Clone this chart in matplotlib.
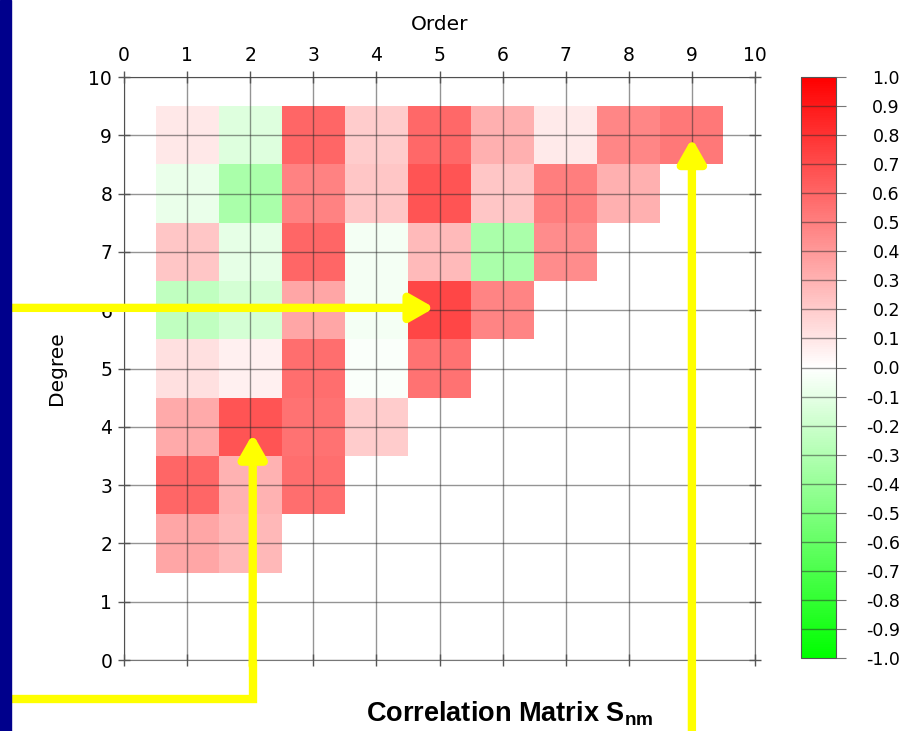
import numpy as np
import matplotlib
matplotlib.use("Agg")
import matplotlib.pyplot as plt
from matplotlib.colors import LinearSegmentedColormap

plt.rcParams['font.family'] = ['DejaVu Sans']
plt.rcParams['mathtext.fontset'] = 'custom'
plt.rcParams['mathtext.rm'] = 'Liberation Sans'
plt.rcParams['mathtext.bf'] = 'Liberation Sans:bold'

# correlation per degree n, orders m = 1..n
degrees = [2, 3, 4, 5, 6, 7, 8, 9]
row_n2 = [0.35, 0.28]
row_n3 = [0.60, 0.30, 0.57]
row_n4 = [0.33, 0.67, 0.55, 0.20]
row_n5 = [0.12, 0.06, 0.57, -0.02, 0.55]
row_n6 = [-0.25, -0.17, 0.35, -0.04, 0.72, 0.48]
row_n7 = [0.22, -0.10, 0.60, -0.04, 0.27, -0.33, 0.45]
row_n8 = [-0.08, -0.33, 0.49, 0.22, 0.67, 0.22, 0.50, 0.31]
row_n9 = [0.09, -0.13, 0.60, 0.20, 0.59, 0.31, 0.08, 0.47, 0.53]
rows = [row_n2, row_n3, row_n4, row_n5, row_n6, row_n7, row_n8, row_n9]

ticks = list(range(0, 11))
cbar_ticks = [round(v, 1) + 0.0 for v in np.arange(-1.0, 1.01, 0.1)]
cbar_labels = ['%.1f' % (0.0 if abs(t) < 1e-9 else t) for t in cbar_ticks]

grid = np.full((11, 11), np.nan)
for n, vals in zip(degrees, rows):
    for m, v in enumerate(vals, start=1):
        grid[n, m] = v
grid = np.ma.masked_invalid(grid)

cmap = LinearSegmentedColormap.from_list('gwr', [(0, 1, 0), (1, 1, 1), (1, 0, 0)])

fig = plt.figure(figsize=(9.05, 7.31), dpi=100)
W, H = 905, 731

# navy stripe on the left edge
fig.patches.append(plt.Rectangle((0, 0), 11 / W, 1, transform=fig.transFigure,
                                 color='#00008c', zorder=0))

ax = fig.add_axes([124 / W, 1 - 660 / H, (755 - 124) / W, (660 - 77) / H])
edges = np.arange(-0.5, 11, 1.0)
mesh = ax.pcolormesh(edges, edges, grid, cmap=cmap, vmin=-1, vmax=1)
ax.set_xlim(0, 10)
ax.set_ylim(0, 10)
ax.set_xticks(ticks)
ax.set_yticks(ticks)
ax.xaxis.tick_top()
ax.xaxis.set_label_position('top')
ax.tick_params(axis='both', direction='inout', length=9, width=1, color='#555555',
               labelsize=13.5, top=True, bottom=True, left=True, right=True,
               labelbottom=False, labelright=False, pad=4)
ax.grid(True, color='#2a2a2a', alpha=0.5, lw=1)
ax.set_axisbelow(False)
for s in ax.spines.values():
    s.set_color('#777777')
ax.set_xlabel('Order', fontsize=14.5, labelpad=12)
ax.set_ylabel('Degree', fontsize=14.5, labelpad=16)

# colorbar
cax = fig.add_axes([801 / W, 1 - 658 / H, 35 / W, (658 - 77) / H])
cb = fig.colorbar(mesh, cax=cax, ticks=cbar_ticks)
cb.outline.set_edgecolor('#555555')
cax.set_yticklabels(cbar_labels)
cax.tick_params(direction='out', length=7, color='#777777', labelsize=12.5, pad=39)
for lab in cax.get_yticklabels():
    lab.set_ha('right')
for t in cbar_ticks[1:-1]:
    cax.axhline(t, color='#2a2a2a', alpha=0.5, lw=1)

fig.text(510 / W, 1 - 714 / H, 'Correlation Matrix $\\mathbf{S_{nm}}$',
         fontsize=19.5, fontweight='bold', family='Liberation Sans',
         ha='center', va='center')

# yellow arrows
yel = '#ffff00'
arrow_kw = dict(arrowstyle='-|>,head_length=1.4,head_width=0.8', color=yel, lw=6,
                shrinkA=0, shrinkB=0)
ax.annotate('', xy=(4.92, 6.04), xytext=(-1.97, 6.04), arrowprops=arrow_kw,
            annotation_clip=False)
ax.plot([-1.97, 2.04, 2.04], [-0.67, -0.67, 0.0], color=yel, lw=6,
        clip_on=False, solid_joinstyle='miter', solid_capstyle='butt')
ax.annotate('', xy=(2.04, 3.88), xytext=(2.04, -0.1), arrowprops=arrow_kw,
            annotation_clip=False)
ax.annotate('', xy=(9.0, 8.95), xytext=(9.0, -1.3), arrowprops=arrow_kw,
            annotation_clip=False)

fig.savefig('out.png', dpi=100)
